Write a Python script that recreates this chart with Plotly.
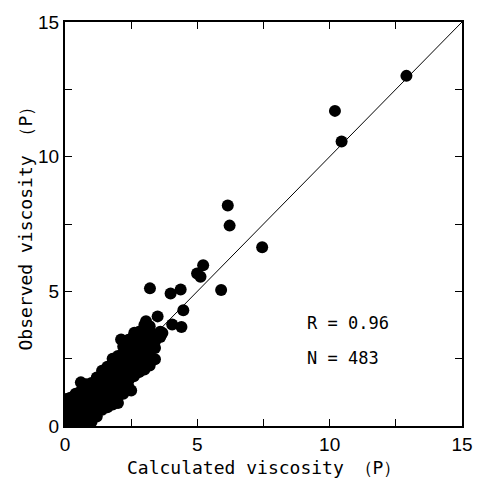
import plotly.graph_objects as go

# Dense cluster, read column by column (calculated, observed)
cluster_calc = (
    [0.05]*5 + [0.2]*5 + [0.4]*6 + [0.6]*6 + [0.8]*7 + [1.0]*7 + [1.2]*7 +
    [1.4]*7 + [1.6]*7 + [1.8]*8 + [2.0]*8 + [2.2]*8 + [2.4]*8 + [2.6]*7 +
    [2.8]*7 + [3.0]*8 + [3.2]*7 + [3.4]*3 + [3.6]*2
)
cluster_obs = [
    0.05, 0.3, 0.55, 0.8, 1.0,
    0.05, 0.3, 0.55, 0.8, 1.05,
    0.05, 0.3, 0.55, 0.8, 1.05, 1.2,
    0.05, 0.3, 0.55, 0.8, 1.05, 1.3,
    0.1, 0.35, 0.6, 0.85, 1.1, 1.35, 1.55,
    0.15, 0.4, 0.65, 0.9, 1.15, 1.4, 1.6,
    0.35, 0.6, 0.85, 1.1, 1.35, 1.6, 1.8,
    0.6, 0.85, 1.1, 1.35, 1.6, 1.85, 2.05,
    0.7, 0.95, 1.2, 1.45, 1.7, 1.95, 2.2,
    0.8, 1.05, 1.3, 1.55, 1.8, 2.05, 2.3, 2.5,
    0.85, 1.1, 1.35, 1.6, 1.85, 2.1, 2.35, 2.6,
    1.2, 1.45, 1.7, 1.95, 2.2, 2.45, 2.7, 2.95,
    1.45, 1.7, 1.95, 2.2, 2.45, 2.7, 2.95, 3.2,
    1.85, 2.1, 2.35, 2.6, 2.85, 3.1, 3.35,
    2.0, 2.25, 2.5, 2.75, 3.0, 3.25, 3.5,
    2.1, 2.35, 2.6, 2.85, 3.1, 3.35, 3.6, 3.75,
    2.25, 2.5, 2.75, 3.0, 3.25, 3.5, 3.7,
    2.9, 3.15, 3.4,
    3.3, 3.5,
]

# Scattered points outside the dense band
outlier_calc = [12.9, 10.2, 10.45, 6.15, 6.22, 7.45, 5.22, 4.99, 5.12, 4.37,
                5.9, 4.47, 3.21, 3.99, 3.5, 4.4, 4.05, 3.68, 2.12, 2.62,
                3.06, 3.4, 0.6, 2.5]
outlier_obs = [13.0, 11.7, 10.56, 8.19, 7.44, 6.64, 5.97, 5.66, 5.54, 5.07,
               5.05, 4.3, 5.11, 4.92, 4.07, 3.68, 3.77, 3.45, 3.21, 3.46,
               3.89, 2.48, 1.62, 1.32]

line_x = [0, 15]
line_y = [0, 15]

tick_vals = [0, 2.5, 5, 7.5, 10, 12.5, 15]
tick_text = ["0", "", "5", "", "10", "", "15"]

stats_text = ["R = 0.96", "N = 483"]
stats_y = [3.81, 2.53]

fig = go.Figure()
fig.add_trace(go.Scatter(x=line_x, y=line_y, mode="lines",
                         line=dict(color="black", width=1), hoverinfo="skip"))
fig.add_trace(go.Scatter(x=cluster_calc + outlier_calc, y=cluster_obs + outlier_obs,
                         mode="markers", marker=dict(color="black", size=12, line=dict(width=0))))

axis_common = dict(range=[0, 15], tickvals=tick_vals, ticktext=tick_text,
                   ticks="inside", ticklen=7, tickwidth=1, tickcolor="black",
                   showline=True, linecolor="black", linewidth=2, mirror="ticks",
                   showgrid=False, zeroline=False,
                   tickfont=dict(family="Liberation Sans", size=19, color="black"))
fig.update_xaxes(**axis_common)
fig.update_yaxes(**axis_common)

annotations = []
for t, yv in zip(stats_text, stats_y):
    annotations.append(dict(x=9.05, y=yv, xref="x", yref="y", text=t, showarrow=False,
                            xanchor="left", yanchor="middle",
                            font=dict(family="DejaVu Sans Mono", size=17, color="black")))
annotations.append(dict(x=0.5, y=-0.103, xref="paper", yref="paper",
                        text="Calculated viscosity （P）", showarrow=False,
                        xanchor="center", yanchor="middle",
                        font=dict(family="DejaVu Sans Mono", size=18, color="black")))
annotations.append(dict(x=-0.102, y=0.5, xref="paper", yref="paper",
                        text="Observed viscosity （P）", showarrow=False, textangle=-90,
                        xanchor="center", yanchor="middle",
                        font=dict(family="DejaVu Sans Mono", size=18, color="black")))

fig.update_layout(width=485, height=478, showlegend=False,
                  margin=dict(l=65, r=19, t=17, b=52),
                  paper_bgcolor="white", plot_bgcolor="white",
                  annotations=annotations)

fig.write_html("out.html", config={"displayModeBar": False},
               post_script="document.body.style.margin='0';document.body.style.overflow='hidden';")
